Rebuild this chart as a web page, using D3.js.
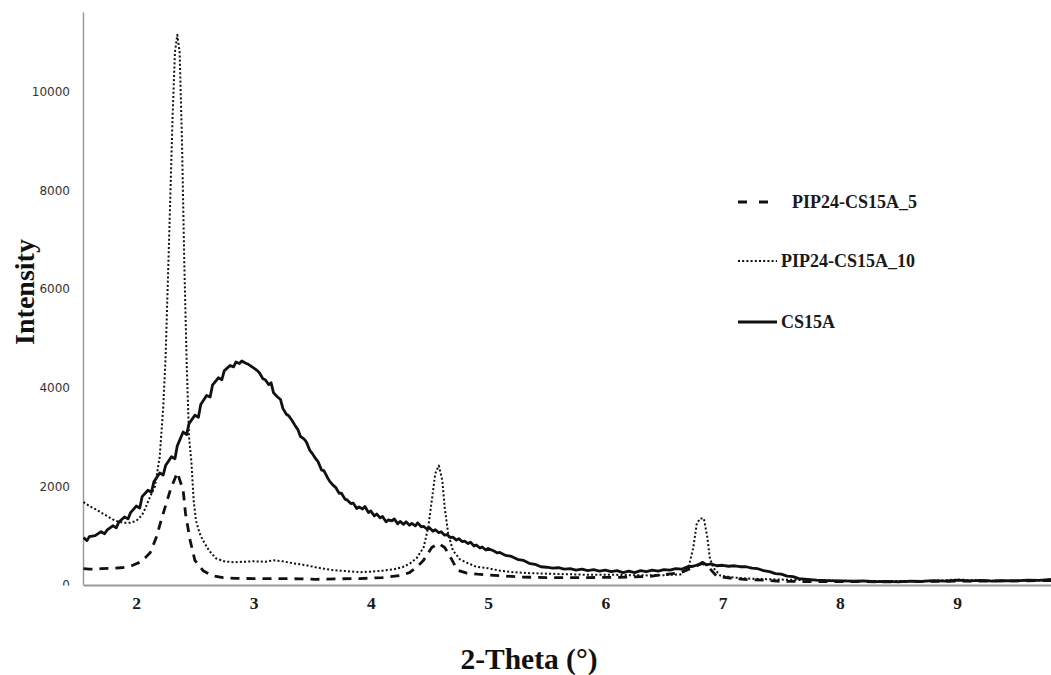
<!DOCTYPE html>
<html>
<head>
<meta charset="utf-8">
<script src="https://cdn.jsdelivr.net/npm/d3@7"></script>
<style>
  html, body { margin: 0; padding: 0; background: #fff; }
  svg { display: block; }
</style>
</head>
<body>
<svg id="chart" width="1051" height="675"></svg>
<script>
// XRD patterns: 2-Theta (degrees) vs. intensity
const seriesNames = ["PIP24-CS15A_5", "PIP24-CS15A_10", "CS15A"];

const pip5 = [
  [1.55, 330], [1.60, 320], [1.70, 330], [1.80, 340], [1.89, 355], [1.97, 400],
  [2.03, 460], [2.08, 560], [2.12, 660], [2.17, 960], [2.22, 1370], [2.29, 1920],
  [2.35, 2280], [2.40, 1920], [2.42, 1450], [2.46, 900], [2.50, 500], [2.57, 290],
  [2.65, 190], [2.74, 150], [2.85, 135], [3.00, 130], [3.20, 130], [3.40, 125],
  [3.53, 115], [3.70, 125], [3.90, 130], [4.10, 150], [4.25, 190], [4.33, 250],
  [4.40, 380], [4.45, 500], [4.52, 760], [4.58, 840], [4.63, 760], [4.68, 560],
  [4.74, 300], [4.82, 240], [4.91, 220], [5.09, 190], [5.30, 160], [5.50, 150],
  [5.80, 150], [6.10, 155], [6.36, 170], [6.64, 250], [6.75, 360], [6.83, 440],
  [6.89, 335], [6.95, 175], [7.10, 130], [7.21, 110], [7.35, 100], [7.49, 75],
  [7.70, 70], [8.00, 70], [8.40, 65], [8.80, 75], [9.20, 80], [9.80, 90]
];

const pip10 = [
  [1.55, 1680], [1.60, 1600], [1.65, 1540], [1.70, 1470], [1.75, 1400], [1.80, 1330],
  [1.85, 1280], [1.90, 1260], [1.95, 1260], [2.00, 1300], [2.05, 1420], [2.08, 1570],
  [2.12, 1800], [2.16, 2000], [2.20, 2600], [2.23, 3600], [2.25, 4600], [2.28, 7000],
  [2.31, 9500], [2.33, 10800], [2.35, 11150], [2.37, 10800], [2.39, 9000], [2.41, 6500],
  [2.43, 4500], [2.45, 3000], [2.47, 2500], [2.49, 1700], [2.51, 1300], [2.54, 1050],
  [2.57, 900], [2.62, 700], [2.68, 540], [2.75, 480], [2.83, 460], [2.90, 470],
  [3.00, 480], [3.10, 470], [3.17, 500], [3.25, 480], [3.34, 440], [3.45, 400],
  [3.53, 360], [3.60, 330], [3.68, 300], [3.80, 280], [3.91, 260], [4.00, 270],
  [4.10, 290], [4.20, 320], [4.27, 360], [4.33, 430], [4.39, 540], [4.45, 760],
  [4.49, 1170], [4.52, 1710], [4.55, 2260], [4.58, 2420], [4.61, 2120], [4.63, 1570],
  [4.66, 1040], [4.70, 700], [4.76, 520], [4.82, 450], [4.90, 370], [5.00, 340],
  [5.10, 290], [5.21, 260], [5.35, 240], [5.50, 230], [5.65, 220], [5.80, 210],
  [6.00, 210], [6.20, 200], [6.36, 195], [6.50, 200], [6.64, 215], [6.71, 360],
  [6.75, 760], [6.78, 1250], [6.81, 1350], [6.84, 1350], [6.87, 960], [6.89, 560],
  [6.92, 350], [6.98, 190], [7.10, 150], [7.21, 130], [7.35, 120], [7.50, 110],
  [7.70, 100], [7.90, 90], [8.20, 80], [8.50, 80], [8.80, 85], [9.00, 110],
  [9.20, 90], [9.50, 85], [9.80, 100]
];

const cs15a = [
  [1.55, 960], [1.58, 900], [1.60, 980], [1.65, 1000], [1.70, 1080], [1.73, 1040],
  [1.75, 1110], [1.80, 1200], [1.83, 1160], [1.85, 1270], [1.90, 1380], [1.93, 1340],
  [1.95, 1460], [2.00, 1600], [2.03, 1560], [2.05, 1790], [2.10, 1920], [2.13, 1880],
  [2.15, 2090], [2.20, 2270], [2.23, 2230], [2.25, 2420], [2.30, 2600], [2.33, 2560],
  [2.35, 2820], [2.40, 3100], [2.43, 3050], [2.45, 3270], [2.50, 3440], [2.53, 3400],
  [2.55, 3660], [2.60, 3840], [2.63, 3810], [2.65, 4050], [2.70, 4200], [2.73, 4160],
  [2.75, 4340], [2.80, 4450], [2.83, 4420], [2.85, 4520], [2.88, 4490], [2.90, 4540],
  [2.93, 4500], [2.95, 4480], [3.00, 4400], [3.03, 4350], [3.05, 4300], [3.08, 4180],
  [3.10, 4160], [3.13, 4060], [3.15, 4100], [3.17, 3900], [3.20, 3820], [3.23, 3760],
  [3.25, 3580], [3.28, 3460], [3.30, 3430], [3.33, 3330], [3.35, 3250], [3.38, 3140],
  [3.40, 3010], [3.43, 2960], [3.45, 2900], [3.48, 2730], [3.50, 2670], [3.53, 2560],
  [3.55, 2500], [3.58, 2330], [3.60, 2320], [3.63, 2180], [3.65, 2100], [3.68, 2020],
  [3.70, 1980], [3.73, 1860], [3.75, 1860], [3.78, 1740], [3.80, 1720], [3.83, 1650],
  [3.85, 1660], [3.88, 1550], [3.90, 1580], [3.93, 1540], [3.95, 1590], [3.98, 1470],
  [4.00, 1500], [4.03, 1400], [4.05, 1440], [4.08, 1360], [4.10, 1390], [4.13, 1280],
  [4.15, 1320], [4.18, 1300], [4.20, 1340], [4.23, 1240], [4.25, 1290], [4.28, 1230],
  [4.30, 1280], [4.33, 1210], [4.35, 1250], [4.38, 1200], [4.40, 1260], [4.43, 1180],
  [4.45, 1190], [4.48, 1130], [4.50, 1160], [4.53, 1090], [4.55, 1120], [4.58, 1060],
  [4.60, 1080], [4.63, 1010], [4.65, 1020], [4.68, 960], [4.70, 970], [4.73, 910],
  [4.75, 940], [4.78, 880], [4.80, 890], [4.83, 840], [4.85, 870], [4.88, 790],
  [4.90, 810], [4.93, 750], [4.95, 770], [4.98, 710], [5.00, 740], [5.05, 690],
  [5.08, 650], [5.10, 660], [5.15, 600], [5.20, 580], [5.25, 520], [5.30, 500],
  [5.35, 440], [5.40, 420], [5.45, 370], [5.50, 360], [5.55, 340], [5.60, 350],
  [5.65, 320], [5.70, 330], [5.75, 300], [5.80, 320], [5.85, 290], [5.90, 310],
  [5.95, 280], [6.00, 300], [6.05, 270], [6.10, 290], [6.15, 250], [6.20, 280],
  [6.25, 250], [6.30, 290], [6.35, 270], [6.40, 300], [6.45, 280], [6.50, 310],
  [6.55, 300], [6.60, 330], [6.65, 320], [6.70, 370], [6.75, 380], [6.80, 420],
  [6.83, 460], [6.86, 410], [6.90, 430], [6.95, 390], [7.00, 400], [7.05, 380],
  [7.10, 390], [7.15, 370], [7.20, 370], [7.25, 340], [7.30, 330], [7.35, 290],
  [7.40, 270], [7.45, 230], [7.50, 220], [7.55, 180], [7.60, 170], [7.65, 130],
  [7.70, 120], [7.80, 100], [7.90, 90], [8.00, 85], [8.10, 80], [8.20, 85],
  [8.30, 70], [8.40, 75], [8.50, 65], [8.60, 80], [8.70, 75], [8.80, 90],
  [8.90, 80], [9.00, 100], [9.10, 85], [9.20, 95], [9.30, 80], [9.40, 90],
  [9.50, 85], [9.60, 100], [9.70, 95], [9.80, 115]
];

const xTicks = [2, 3, 4, 5, 6, 7, 8, 9];
const yTicks = [0, 2000, 4000, 6000, 8000, 10000];
const xTitle = "2-Theta (°)";
const yTitle = "Intensity";

const svg = d3.select("#chart");
const plotLeft = 83, plotRight = 1051, plotTop = 12, plotBottom = 585;

const x = d3.scaleLinear().domain([1.546, 9.80]).range([plotLeft, plotRight]);
const y = d3.scaleLinear().domain([0, 11613]).range([plotBottom, plotTop]);

const defs = svg.append("defs");
defs.append("clipPath").attr("id", "plotClip")
  .append("rect").attr("x", plotLeft).attr("y", 0)
  .attr("width", plotRight - plotLeft).attr("height", plotBottom);
// the y-axis group is translated, so its clip is in the group's own coordinates;
// the label strip stops at the x-axis line
defs.append("clipPath").attr("id", "yLabClip")
  .append("rect").attr("x", -plotLeft).attr("y", 0)
  .attr("width", plotLeft + 2).attr("height", plotBottom + 0.5);

// y axis
const yAxis = svg.append("g")
  .attr("transform", `translate(${plotLeft},0)`)
  .attr("clip-path", "url(#yLabClip)")
  .call(d3.axisLeft(y).tickValues(yTicks).tickSize(0).tickPadding(13).tickFormat(d3.format("d")));
yAxis.select(".domain").attr("stroke", "#9a9a9a").attr("stroke-width", 1.5);
yAxis.selectAll("text")
  .attr("font-family", "'DejaVu Sans', Verdana, sans-serif")
  .attr("font-size", 12).attr("fill", "#333");

// x axis
const xAxis = svg.append("g")
  .attr("transform", `translate(0,${plotBottom})`)
  .call(d3.axisBottom(x).tickValues(xTicks).tickSize(0).tickPadding(12).tickFormat(d3.format("d")));
xAxis.select(".domain").attr("stroke", "#9a9a9a").attr("stroke-width", 2);
xAxis.selectAll("text")
  .attr("font-family", "'Liberation Serif', 'Times New Roman', serif")
  .attr("font-weight", "bold").attr("font-size", 17.5).attr("fill", "#1a1a1a");

// axis titles
svg.append("text")
  .attr("transform", "translate(34,292) rotate(-90)")
  .attr("text-anchor", "middle")
  .attr("font-family", "'Liberation Serif', 'Times New Roman', serif")
  .attr("font-weight", "bold").attr("font-size", 28).attr("fill", "#111")
  .text(yTitle);
svg.append("text")
  .attr("x", 529).attr("y", 669)
  .attr("text-anchor", "middle")
  .attr("font-family", "'Liberation Serif', 'Times New Roman', serif")
  .attr("font-weight", "bold").attr("font-size", 29.5).attr("fill", "#111")
  .text(xTitle);

// series
const styles = [
  { data: pip5, dash: "9,7", width: 2.8 },
  { data: pip10, dash: "2,2.2", width: 2 },
  { data: cs15a, dash: null, width: 2.8 }
];
const line = d3.line().x(d => x(d[0])).y(d => y(d[1]));
const plot = svg.append("g").attr("clip-path", "url(#plotClip)");
styles.forEach(s => {
  plot.append("path")
    .datum(s.data)
    .attr("d", line)
    .attr("fill", "none")
    .attr("stroke", "#111")
    .attr("stroke-width", s.width)
    .attr("stroke-linejoin", "round")
    .attr("stroke-dasharray", s.dash);
});

// legend
const legend = svg.append("g");
const legendRows = [
  { y: 202, dash: "9,12", width: 3, textX: 792 },
  { y: 261, dash: "2,2.2", width: 2, textX: 781 },
  { y: 322, dash: null, width: 2.8, textX: 781 }
];
legendRows.forEach((r, i) => {
  legend.append("line")
    .attr("x1", 738).attr("x2", i === 0 ? 768 : 777)
    .attr("y1", r.y).attr("y2", r.y)
    .attr("stroke", "#111").attr("stroke-width", r.width)
    .attr("stroke-dasharray", r.dash);
  legend.append("text")
    .attr("x", r.textX).attr("y", r.y + 6)
    .attr("font-family", "'Liberation Serif', 'Times New Roman', serif")
    .attr("font-weight", "bold").attr("font-size", 18).attr("fill", "#1a1a1a")
    .text(seriesNames[i]);
});
</script>
</body>
</html>
